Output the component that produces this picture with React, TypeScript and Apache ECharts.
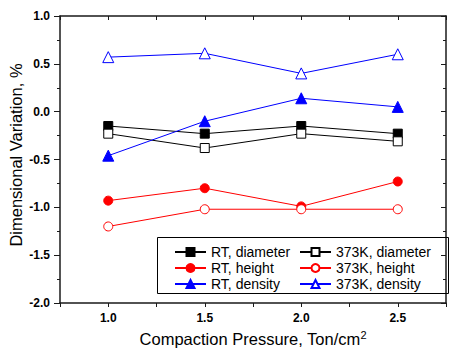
import React, { useEffect, useRef } from "react";
import * as echarts from "echarts";

const pressure = [1.0, 1.5, 2.0, 2.5];
const rtDiameter = [-0.15, -0.23, -0.15, -0.23];
const k373Diameter = [-0.23, -0.38, -0.23, -0.31];
const rtHeight = [-0.93, -0.8, -0.99, -0.73];
const k373Height = [-1.2, -1.02, -1.02, -1.02];
const rtDensity = [-0.46, -0.1, 0.14, 0.05];
const k373Density = [0.57, 0.61, 0.4, 0.6];

const xMajorLabels = [1.0, 1.5, 2.0, 2.5];

const FONT = "Arial, 'Liberation Sans', sans-serif";

function pairs(ys: number[]) {
  return pressure.map((x, i) => [x, ys[i]]);
}

export default function App() {
  const ref = useRef<HTMLDivElement>(null);
  useEffect(() => {
    if (!ref.current) return;
    const chart = echarts.init(ref.current, undefined, { renderer: "svg" });
    const axisLine = { show: true, onZero: false, lineStyle: { color: "#1a1a1a", width: 1.5 } };
    const mk = (
      name: string,
      ys: number[],
      color: string,
      symbol: string,
      filled: boolean,
      size: number
    ) => ({
      name,
      type: "line",
      data: pairs(ys),
      symbol,
      symbolSize: size,
      showSymbol: true,
      lineStyle: { color, width: 1 },
      itemStyle: {
        color: filled ? color : "#ffffff",
        borderColor: color,
        borderWidth: 1,
      },
      emphasis: { disabled: true },
      z: 3,
    });
    const legendCommon = {
      orient: "vertical",
      itemWidth: 31,
      itemHeight: 10,
      itemGap: 0,
      padding: 0,
      textStyle: { fontSize: 14, fontFamily: FONT, color: "#000", lineHeight: 16 },
    };
    chart.setOption({
      animation: false,
      grid: { left: 60, top: 16, bottom: 47, right: -3, containLabel: false },
      xAxis: [
        {
          type: "value",
          min: 0.75,
          max: 2.75,
          interval: 0.25,
          position: "bottom",
          axisLine,
          axisTick: { show: true, inside: false, length: 4, lineStyle: { color: "#1a1a1a", width: 1 } },
          axisLabel: {
            margin: 9,
            fontSize: 12,
            fontWeight: "bold",
            fontFamily: FONT,
            color: "#000",
            formatter: (v: number) =>
              xMajorLabels.some((m) => Math.abs(m - v) < 1e-6) ? v.toFixed(1) : "",
          },
          splitLine: { show: false },
          name: "Compaction Pressure, Ton/cm{sup|2}",
          nameLocation: "middle",
          nameGap: 26,
          nameTextStyle: {
            fontSize: 16.5,
            fontFamily: FONT,
            color: "#000",
            rich: {
              sup: { fontSize: 11, fontFamily: FONT, color: "#000", verticalAlign: "top", padding: [0, 0, 8, 0] },
            },
          },
        },
        {
          type: "value",
          min: 0.75,
          max: 2.75,
          interval: 0.25,
          position: "top",
          axisLine,
          axisTick: { show: true, inside: true, length: 4, lineStyle: { color: "#1a1a1a", width: 1 } },
          axisLabel: { show: false },
          splitLine: { show: false },
        },
      ],
      yAxis: [
        {
          type: "value",
          min: -2,
          max: 1,
          interval: 0.5,
          position: "left",
          axisLine,
          axisTick: { show: true, inside: false, length: 6, lineStyle: { color: "#1a1a1a", width: 1 } },
          minorTick: { show: true, splitNumber: 2, length: 3, lineStyle: { color: "#1a1a1a", width: 1 } },
          axisLabel: {
            margin: 10,
            fontSize: 12,
            fontWeight: "bold",
            fontFamily: FONT,
            color: "#000",
            formatter: (v: number) => v.toFixed(1),
          },
          splitLine: { show: false },
        },
        {
          type: "value",
          min: -2,
          max: 1,
          interval: 0.5,
          position: "right",
          axisLine,
          axisTick: { show: true, inside: true, length: 5, lineStyle: { color: "#1a1a1a", width: 1 } },
          minorTick: { show: true, splitNumber: 2, length: 3, lineStyle: { color: "#1a1a1a", width: 1 } },
          axisLabel: { show: false },
          splitLine: { show: false },
        },
      ],
      legend: [
        {
          ...legendCommon,
          left: 174,
          top: 244,
          data: ["RT, diameter", "RT, height", "RT, density"],
        },
        {
          ...legendCommon,
          left: 299,
          top: 244,
          data: ["373K, diameter", "373K, height", "373K, density"],
        },
      ],
      graphic: [
        {
          type: "rect",
          shape: { x: 157.5, y: 237.5, width: 291, height: 56 },
          style: { fill: "none", stroke: "#000", lineWidth: 1 },
          z: 1,
        },
        {
          type: "text",
          x: 16,
          y: 155,
          rotation: Math.PI / 2,
          style: {
            text: "Dimensional Variation, %",
            fontSize: 16.5,
            fontFamily: FONT,
            fill: "#000",
            textAlign: "center",
            textVerticalAlign: "middle",
          },
        },
      ],
      series: [
        mk("RT, diameter", rtDiameter, "#000000", "rect", true, 9),
        mk("373K, diameter", k373Diameter, "#000000", "rect", false, 9),
        mk("RT, height", rtHeight, "#ff0000", "circle", true, 9),
        mk("373K, height", k373Height, "#ff0000", "circle", false, 9),
        mk("RT, density", rtDensity, "#0000ff", "triangle", true, 11),
        mk("373K, density", k373Density, "#0000ff", "triangle", false, 11),
      ],
    });
    return () => chart.dispose();
  }, []);
  return (
    <div
      ref={ref}
      style={{ position: "fixed", left: 0, top: 0, width: 449, height: 352, background: "#fff" }}
    />
  );
}
